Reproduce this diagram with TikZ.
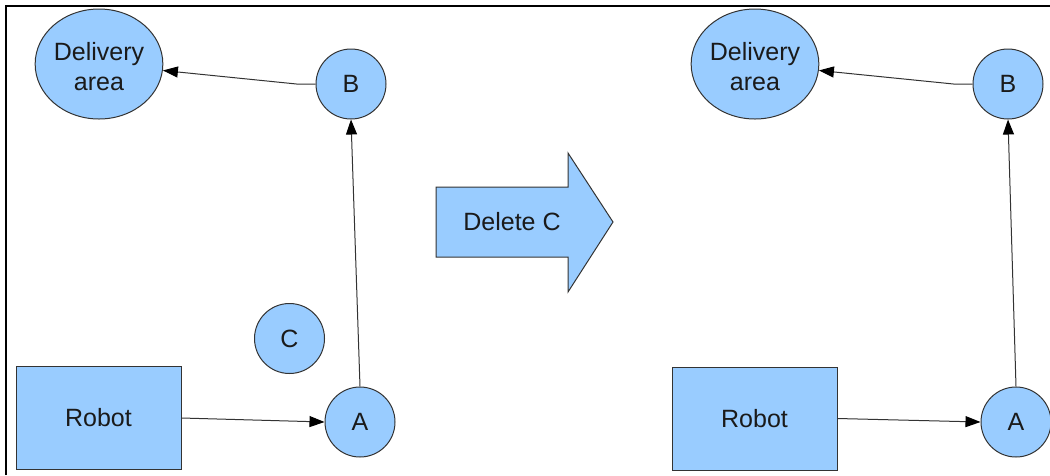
\documentclass[tikz,border=0pt]{standalone}
\usepackage{fontspec}
\setmainfont{Liberation Sans}
\usetikzlibrary{shapes.geometric,arrows.meta}
\definecolor{nodefill}{HTML}{99CCFF}
\definecolor{edgecol}{HTML}{333333}
\definecolor{txt}{HTML}{1A1A1A}
\newcommand{\twolines}[2]{\begin{tabular}{@{}c@{}}\rule{0pt}{31pt}#1\\#2\end{tabular}}
\begin{document}
\begin{tikzpicture}[x=1pt,y=-1pt,
  base/.style={draw=edgecol, fill=nodefill, line width=1pt, text=txt,
               font=\fontsize{25}{30}\selectfont},
  circ/.style={base, circle, minimum size=70pt, inner sep=0pt},
  area/.style={base, ellipse, minimum width=124pt, minimum height=110pt,
               inner sep=0pt},
  robot/.style={base, rectangle, minimum width=165pt, minimum height=103pt},
  conn/.style={draw=edgecol, line width=1pt,
               -{Triangle[length=15pt,width=11pt,color=black]}},
  frame/.style={draw=black, line width=1.5pt}]
\useasboundingbox (0,0) rectangle (1050,475);
\draw[frame] (6,475) -- (6,6) -- (1050,6);

% left state
\node[area]  (D1) at (99,64) {\twolines{Delivery}{area}};
\node[circ]  (B1) at (351,84) {B};
\node[circ]  (C1) at (289.5,338.5) {C};
\node[circ]  (A1) at (360,422) {A};
\node[robot] (R1) at (98.5,418) {Robot};
\draw[conn] (R1.east) -- (A1.west);
\draw[conn] (A1.north) -- (B1.south);
\draw[conn] (B1.west) -- ++(-19,0) -- (D1);

% transformation arrow
\draw[base] (436,187) -- (568,187) -- (568,153) -- (613,222) -- (568,292)
  -- (568,257) -- (436,257) -- cycle;
\node[text=txt, font=\fontsize{25}{30}\selectfont] (del) at (512,222) {Delete C};

% right state
\node[area]  (D2) at (755,64) {\twolines{Delivery}{area}};
\node[circ]  (B2) at (1008,84) {B};
\node[circ]  (A2) at (1016,422) {A};
\node[robot] (R2) at (754.5,418.5) {Robot};
\draw[conn] (R2.east) -- (A2.west);
\draw[conn] (A2.north) -- (B2.south);
\draw[conn] (B2.west) -- ++(-19,0) -- (D2);
\end{tikzpicture}
\end{document}
